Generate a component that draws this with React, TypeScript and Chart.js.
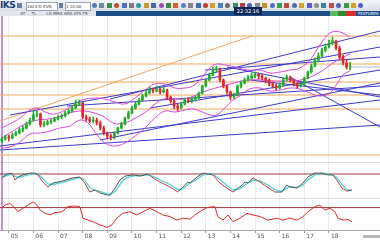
import React, { useEffect, useRef } from "react";
import { Chart, registerables } from "chart.js";
Chart.register(...registerables);

// ---------- data ----------
const tickIndex = [2, 9, 16, 23, 30, 37, 44, 51, 58, 65, 72, 79, 86, 93];
const dayLabels = ["05", "06", "07", "08", "09", "10", "11", "12", "13", "14", "15", "16", "17", "18"];

const opens = [1.235,1.237,1.239,1.238,1.241,1.243,1.246,1.248,1.252,1.256,1.261,1.262,1.251,1.252,1.254,1.255,1.257,1.259,1.260,1.263,1.265,1.268,1.272,1.273,1.259,1.257,1.255,1.256,1.253,1.248,1.243,1.240,1.239,1.243,1.248,1.252,1.258,1.263,1.268,1.272,1.276,1.280,1.283,1.286,1.285,1.287,1.284,1.286,1.279,1.275,1.270,1.268,1.272,1.276,1.275,1.277,1.278,1.283,1.290,1.296,1.301,1.306,1.307,1.296,1.290,1.284,1.279,1.281,1.290,1.293,1.296,1.298,1.300,1.302,1.300,1.298,1.296,1.292,1.290,1.288,1.291,1.297,1.299,1.296,1.292,1.290,1.292,1.298,1.304,1.310,1.316,1.320,1.326,1.329,1.333,1.335,1.328,1.319,1.313,1.309];
const closes = [1.237,1.239,1.238,1.241,1.243,1.246,1.248,1.252,1.256,1.261,1.262,1.251,1.252,1.254,1.255,1.257,1.259,1.260,1.263,1.265,1.268,1.272,1.273,1.259,1.257,1.255,1.256,1.253,1.248,1.243,1.240,1.239,1.243,1.248,1.252,1.258,1.263,1.268,1.272,1.276,1.280,1.283,1.286,1.285,1.287,1.284,1.286,1.279,1.275,1.270,1.268,1.272,1.276,1.275,1.277,1.278,1.283,1.290,1.296,1.301,1.306,1.307,1.296,1.290,1.284,1.279,1.281,1.290,1.293,1.296,1.298,1.300,1.302,1.300,1.298,1.296,1.292,1.290,1.288,1.291,1.297,1.299,1.296,1.292,1.290,1.292,1.298,1.304,1.310,1.316,1.320,1.326,1.329,1.333,1.335,1.328,1.319,1.313,1.309,1.310];
const highs = [1.239,1.241,1.241,1.243,1.245,1.248,1.250,1.254,1.258,1.265,1.265,1.263,1.255,1.256,1.257,1.259,1.261,1.262,1.265,1.267,1.271,1.276,1.276,1.274,1.261,1.259,1.259,1.258,1.255,1.250,1.244,1.242,1.244,1.249,1.254,1.259,1.265,1.270,1.274,1.278,1.282,1.286,1.289,1.288,1.290,1.288,1.289,1.287,1.280,1.276,1.272,1.274,1.278,1.278,1.279,1.280,1.284,1.291,1.297,1.303,1.309,1.310,1.308,1.297,1.291,1.285,1.283,1.291,1.295,1.298,1.301,1.303,1.304,1.303,1.302,1.299,1.297,1.294,1.292,1.293,1.298,1.301,1.300,1.297,1.294,1.294,1.299,1.305,1.312,1.318,1.323,1.328,1.332,1.336,1.339,1.336,1.330,1.321,1.316,1.314];
const lows = [1.233,1.236,1.235,1.237,1.240,1.242,1.244,1.247,1.251,1.255,1.259,1.249,1.249,1.251,1.252,1.254,1.256,1.257,1.259,1.262,1.264,1.267,1.270,1.257,1.255,1.253,1.253,1.251,1.246,1.241,1.237,1.236,1.237,1.242,1.247,1.251,1.257,1.262,1.267,1.271,1.275,1.279,1.282,1.283,1.284,1.282,1.283,1.277,1.273,1.267,1.265,1.267,1.271,1.273,1.273,1.275,1.277,1.282,1.289,1.295,1.300,1.304,1.294,1.288,1.282,1.276,1.277,1.280,1.288,1.292,1.295,1.297,1.298,1.297,1.296,1.293,1.290,1.288,1.286,1.287,1.290,1.295,1.294,1.290,1.288,1.289,1.291,1.297,1.303,1.309,1.314,1.319,1.324,1.328,1.331,1.326,1.317,1.311,1.307,1.306];

const upperX = [0,2.3,5.2,8,10,12.3,15.1,18,20.8,22.8,26.5,29.3,32.2,35,37.9,40.7,43.5,46.4,49.2,52.1,54.3,56.3,59.2,61.1,63.4,66.3,69.7,73.4,76.2,79.1,81.9,84.7,87.6,90.4,93.3,96.1,98.9];
const upperBand = [1.248,1.252,1.258,1.266,1.268,1.264,1.262,1.266,1.272,1.276,1.278,1.277,1.274,1.272,1.278,1.286,1.292,1.292,1.288,1.288,1.290,1.296,1.308,1.312,1.311,1.309,1.306,1.306,1.303,1.304,1.306,1.308,1.316,1.331,1.343,1.344,1.339];
const lowerX = [0,2.3,5.2,8,10.9,13.7,16.5,19.4,22.2,24.5,26.5,29.3,32.2,35,37.9,40.7,43.5,46.4,49.2,52.1,54.3,56.3,59.2,61.1,63.4,65.7,67.7,70.5,73.4,76.2,79.1,81.9,84.7,87.6,90.4,93.3,95.2,97,98.9];
const lowerBand = [1.228,1.229,1.234,1.242,1.243,1.245,1.248,1.250,1.256,1.253,1.244,1.233,1.230,1.233,1.240,1.248,1.258,1.265,1.264,1.266,1.267,1.265,1.261,1.261,1.268,1.276,1.280,1.287,1.288,1.285,1.286,1.288,1.287,1.283,1.280,1.283,1.292,1.301,1.305];
const midX = [0,8,15,22,28,33,40,46,52,58,63,70,78,85,90,95,99];
const midBand = [1.238,1.254,1.258,1.265,1.261,1.252,1.262,1.277,1.277,1.285,1.290,1.296,1.295,1.296,1.303,1.315,1.322];

// horizontal orange levels and the orange trend line
const orangeLevels = [1.340, 1.312, 1.294, 1.281, 1.267, 1.221];
const orangeTrend = [[-0.5, 1.255, 71.1, 1.340]];
// blue trend lines: [x1, price1, x2, price2]
const blueLines = [
  [2.3, 1.261, 107.5, 1.329],
  [30.8, 1.277, 107.5, 1.345],
  [57.8, 1.306, 107.5, 1.319],
  [18.5, 1.270, 107.5, 1.290],
  [42.1, 1.268, 107.5, 1.306],
  [-0.5, 1.230, 107.5, 1.276],
  [27.9, 1.236, 107.5, 1.293],
  [-0.5, 1.226, 107.5, 1.251],
  [81.9, 1.299, 107.5, 1.249],
  [64.0, 1.309, 107.5, 1.279],
  [70.6, 1.296, 107.5, 1.281],
];
const lastPriceLine = [99.5, 107.5, 1.309];

const stochX = [0,1.5,2.9,3.8,4.6,6,8,9.4,10.3,11.7,13.1,14.6,17.4,20.2,22.2,23.6,25,26.5,27.9,29.9,30.8,32.2,33.6,35,37.3,39.3,41.5,43,45,47.8,50,51.5,52.9,53.5,55.5,57.2,58.6,60,62,64,65.7,67.7,69.1,70,71.4,73.4,75.4,77.6,79.6,81,81.9,83.9,85.6,87,89,91,92.7,94.1,95.2,96.7,98.1,99.5];
const stochK = [67,80,83,60,70,77,83,83,77,53,37,50,57,67,70,50,20,27,17,10,10,33,60,73,77,73,80,67,53,37,20,37,53,50,70,83,80,77,50,33,20,37,53,50,67,53,37,20,20,43,37,33,50,70,83,83,77,77,60,33,23,27];
const stochD = [70,75,80,72,68,72,79,82,80,65,47,45,53,62,68,60,35,25,22,14,12,22,45,65,74,75,77,72,60,45,28,30,45,50,62,77,81,79,62,42,27,30,45,50,60,57,45,28,22,33,38,35,43,60,77,83,80,77,68,45,28,25];
const stochLevel = 80;

const redX = [0,0.9,2.3,3.8,4.6,6,7.5,8.9,10,10.9,12.3,13.7,15.1,17.1,18.8,20.8,22.2,23.1,24.5,25.9,27.9,29.9,31.3,32.7,34.4,36.4,38.4,40.1,42.1,44.1,45.8,47.8,49.8,51.5,53.5,54.9,56.9,58.6,60.6,61.4,62.9,64.3,65.7,67.7,69.7,71.4,73.4,75.6,78.2,79.9,81.9,83.9,85.6,87,89,90.4,91.8,93.3,94.7,95.5,97,98.4,99.5];
const redV = [68,78,83,68,57,68,78,88,78,62,52,47,54,57,73,75,73,37,31,26,16,8,16,37,52,57,47,57,68,57,47,42,31,37,34,47,62,71,73,42,31,47,26,37,52,47,42,31,37,31,37,31,42,57,73,78,62,68,57,37,31,33,26];
const redLevel = 70;

const sessionMarkerX = 0.07;

// ---------- styles ----------
const GREEN = "#1fae2a";
const RED = "#e0262a";
const BLUE = "#3c3cc8";
const ORANGE = "#f2a65a";
const MAGENTA = "#dd44dd";
const X_MIN = -0.5;
const X_MAX = 107.5;

const toolbarIcons = ["#5a78b8","#6d8aa8","#3b8f4a","#c24a3a","#4e6fc0","#7d7d7d","#2f9a9a","#c79a2a","#4a62b0","#a04ab0","#3c8a3c","#d06030","#5b7fc7","#888","#3a70b0","#c03a3a","#d0a020","#4a80c0","#6a6a6a","#3c8c60","#b84040","#4060c0","#8a8a8a","#c0902a","#5070c0","#3a9a50","#c04848","#4d6fb8","#d0a030","#5b5bd0","#909090","#3a80a0","#c05050","#4a6ab8","#3a9a3a","#d4a020","#5060c8"];

function App() {
  const ref = useRef<HTMLCanvasElement | null>(null);

  useEffect(() => {
    document.body.style.margin = "0";
    const canvas = ref.current!;
    const idx = closes.map((_, i) => i);
    const candleColor = (c: any) => (closes[c.dataIndex] >= opens[c.dataIndex] ? GREEN : RED);

    const line = (data: any[], color: string, yAxisID: string, order: number, extra: any = {}) => ({
      type: "line",
      data,
      borderColor: color,
      borderWidth: 1,
      pointRadius: 0,
      fill: false,
      tension: 0,
      yAxisID,
      order,
      ...extra,
    });

    const datasets: any[] = [
      {
        type: "bar",
        data: idx.map((i) => ({ x: i, y: [opens[i], closes[i]] })),
        backgroundColor: candleColor,
        barThickness: 2,
        grouped: false,
        yAxisID: "yMain",
        order: 0,
      },
      {
        type: "bar",
        data: idx.map((i) => ({ x: i, y: [lows[i], highs[i]] })),
        backgroundColor: candleColor,
        barThickness: 1,
        grouped: false,
        yAxisID: "yMain",
        order: 1,
      },
      line(upperX.map((x, i) => ({ x, y: upperBand[i] })), MAGENTA, "yMain", 2, { tension: 0.4 }),
      line(lowerX.map((x, i) => ({ x, y: lowerBand[i] })), MAGENTA, "yMain", 2, { tension: 0.4 }),
      line(midX.map((x, i) => ({ x, y: midBand[i] })), MAGENTA, "yMain", 2, { tension: 0.4 }),
      ...blueLines.map((l) => line([{ x: l[0], y: l[1] }, { x: l[2], y: l[3] }], BLUE, "yMain", 3)),
      ...orangeLevels.map((p) => line([{ x: X_MIN, y: p }, { x: X_MAX, y: p }], ORANGE, "yMain", 4)),
      ...orangeTrend.map((l) => line([{ x: l[0], y: l[1] }, { x: l[2], y: l[3] }], ORANGE, "yMain", 4)),
      line([{ x: lastPriceLine[0], y: lastPriceLine[2] }, { x: lastPriceLine[1], y: lastPriceLine[2] }], "#b8bcc8", "yMain", 5),
      line([{ x: X_MIN, y: stochLevel }, { x: X_MAX, y: stochLevel }], "#a03838", "yStoch", 6),
      line(stochX.map((x, i) => ({ x, y: stochD[i] })), "#4fd4d4", "yStoch", 2, { borderWidth: 1.3 }),
      line(stochX.map((x, i) => ({ x, y: stochK[i] })), "#555", "yStoch", 1, {
        segment: { borderColor: (s: any) => (s.p1.parsed.y < s.p0.parsed.y - 8 ? "#c83a3a" : undefined) },
      }),
      line([{ x: X_MIN, y: redLevel }, { x: X_MAX, y: redLevel }], "#a03838", "yRed", 6),
      line(redX.map((x, i) => ({ x, y: redV[i] })), "#e02a2a", "yRed", 1),
    ];

    const hiddenY = (min: number, max: number, weight: number) => ({
      type: "linear",
      position: "right",
      stack: "panes",
      stackWeight: weight,
      min,
      max,
      display: true,
      offset: false,
      ticks: { display: false },
      grid: { display: false, drawTicks: false },
      border: { display: false },
    });

    const framePlugin = {
      id: "frame",
      beforeDatasetsDraw(chart: any) {
        const { ctx, chartArea, scales } = chart;
        ctx.save();
        ctx.strokeStyle = "#d9d9de";
        ctx.lineWidth = 1;
        [scales.yStoch, scales.yRed].forEach((s: any) => {
          ctx.beginPath();
          ctx.moveTo(chartArea.left, Math.round(s.top) + 0.5);
          ctx.lineTo(chartArea.right, Math.round(s.top) + 0.5);
          ctx.stroke();
        });
        const px = scales.x.getPixelForValue(sessionMarkerX);
        ctx.strokeStyle = "#b36ad6";
        ctx.lineWidth = 1.5;
        ctx.beginPath();
        ctx.moveTo(px, chartArea.top);
        ctx.lineTo(px, chartArea.bottom);
        ctx.stroke();
        ctx.restore();
      },
    };

    const chart = new Chart(canvas, {
      type: "bar",
      data: { datasets },
      options: {
        responsive: false,
        maintainAspectRatio: false,
        animation: false,
        layout: { padding: 0 },
        plugins: { legend: { display: false }, tooltip: { enabled: false } },
        scales: {
          x: {
            type: "linear",
            min: X_MIN,
            max: X_MAX,
            bounds: "data",
            offset: false,
            position: "bottom",
            afterBuildTicks: (s: any) => {
              s.ticks = tickIndex.map((v) => ({ value: v }));
            },
            afterFit: (s: any) => {
              s.height = 10;
              s.paddingLeft = 0;
              s.paddingRight = 0;
            },
            ticks: {
              autoSkip: false,
              maxRotation: 0,
              align: "start",
              padding: 0,
              color: "#555",
              font: { size: 6, family: "DejaVu Sans" },
              callback: (_v: any, i: number) => " " + dayLabels[i],
            },
            grid: { offset: false, color: "#ebebeb", lineWidth: 1, drawTicks: true, tickLength: 3, tickColor: "#999" },
            border: { color: "#a8a8a8" },
          },
          yMain: hiddenY(1.214, 1.36, 146),
          yStoch: hiddenY(0, 120, 36),
          yRed: hiddenY(0, 100, 32),
        } as any,
      },
      plugins: [framePlugin],
    } as any);
    return () => chart.destroy();
  }, []);

  return (
    <div style={{ position: "fixed", left: 0, top: 0, width: 380, height: 240, background: "#fff", overflow: "hidden", fontFamily: "DejaVu Sans, sans-serif" }}>
      <div style={{ position: "absolute", left: 0, top: 0, width: 380, height: 11, background: "linear-gradient(#f4f6f9,#d8dee6)" }}>
        <span style={{ position: "absolute", left: 0, top: 0, fontSize: 9, lineHeight: "11px", fontWeight: "bold", color: "#1c3c7c", letterSpacing: -0.5 }}>IKS</span>
        <div style={{ position: "absolute", left: 17, top: 3, width: 5, height: 5, background: "#6b7f9c" }} />
        <div style={{ position: "absolute", left: 26, top: 2, width: 30, height: 7, background: "#fff", border: "1px solid #9aa6b6", fontSize: 4, lineHeight: "7px", color: "#333", overflow: "hidden", whiteSpace: "nowrap" }}>1024-D-EVN</div>
        <div style={{ position: "absolute", left: 59, top: 3, width: 4, height: 5, background: "#6b7f9c" }} />
        <div style={{ position: "absolute", left: 65, top: 2, width: 24, height: 7, background: "#fff", border: "1px solid #9aa6b6", fontSize: 4, lineHeight: "7px", color: "#333", overflow: "hidden" }}>1 10:00</div>
        {toolbarIcons.map((c, k) => (
          <div key={k} style={{ position: "absolute", left: 92 + k * 7.4, top: 3, width: 5, height: 5, background: c, borderRadius: k % 3 === 0 ? 3 : 0 }} />
        ))}
      </div>
      <div style={{ position: "absolute", left: 0, top: 11, width: 96, height: 5, background: "#e2e6ec", fontSize: 4, lineHeight: "5px", color: "#555", whiteSpace: "nowrap", overflow: "hidden" }}>
        &nbsp;&nbsp;&nbsp;&nbsp;&nbsp;&nbsp;&nbsp;&nbsp;&nbsp;&nbsp;&nbsp;&nbsp;&nbsp;&nbsp;&nbsp;&nbsp;AT&nbsp;&nbsp;&nbsp;&nbsp;&nbsp;TL&nbsp;&nbsp;&nbsp;&nbsp;&nbsp;&nbsp;&nbsp;&nbsp;LN&nbsp;MMA&nbsp;SMA&nbsp;STS&nbsp;FR
      </div>
      <div style={{ position: "absolute", left: 96, top: 11, width: 284, height: 5, background: "#1d4f8c" }} />
      <div style={{ position: "absolute", left: 330, top: 11, width: 8, height: 5, background: "#5fb85f" }} />
      <div style={{ position: "absolute", left: 338, top: 11, width: 8, height: 5, background: "#2f8a2f" }} />
      <div style={{ position: "absolute", left: 346, top: 11, width: 10, height: 5, background: "#d23030" }} />
      <div style={{ position: "absolute", left: 358, top: 11, width: 22, height: 5, fontSize: 4, lineHeight: "5px", color: "#fff", whiteSpace: "nowrap" }}>FEATURES</div>
      <div style={{ position: "absolute", left: 234, top: 7, width: 28, height: 8, background: "#0f2457", color: "#fff", fontSize: 5, lineHeight: "8px", textAlign: "center" }}>22:32:16</div>
      <canvas ref={ref} width={380} height={224} style={{ position: "absolute", left: 0, top: 16 }} />
      <div style={{ position: "absolute", left: 363, top: 235, width: 17, height: 3, background: "#b8b8b8" }} />
    </div>
  );
}

export default App;
